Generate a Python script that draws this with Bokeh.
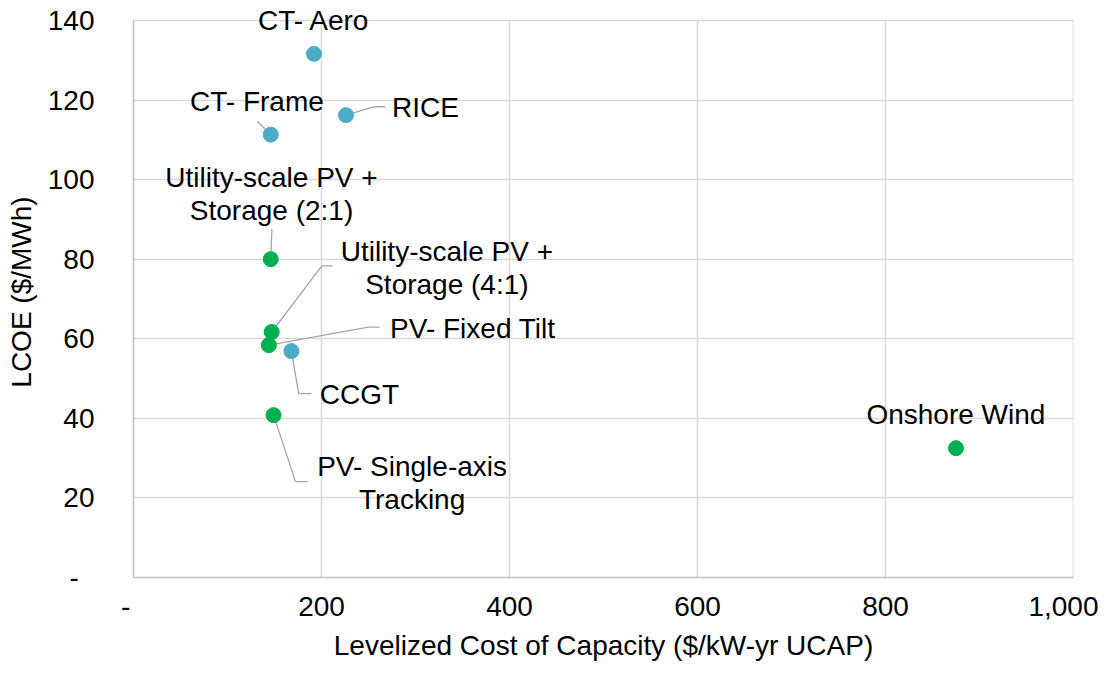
from bokeh.plotting import figure
from bokeh.models import ColumnDataSource, FixedTicker, NumeralTickFormatter, Range1d, LabelSet
from bokeh.embed import file_html
from bokeh.resources import INLINE
from bokeh.core.properties import value

# ---- data ----
names = ["CT- Aero", "RICE", "CT- Frame", "Utility-scale PV +\nStorage (2:1)",
         "Utility-scale PV +\nStorage (4:1)", "PV- Fixed Tilt", "CCGT",
         "PV- Single-axis\nTracking", "Onshore Wind"]
capacity_cost = [192, 226, 146, 146, 147, 144, 168, 149, 875]
lcoe = [131.6, 116.2, 111.3, 80.0, 61.7, 58.4, 56.9, 40.8, 32.5]
tech_group = ["thermal", "thermal", "thermal", "renewable", "renewable",
              "renewable", "thermal", "renewable", "renewable"]

x_ticks = [0, 200, 400, 600, 800, 1000]
y_ticks = [0, 20, 40, 60, 80, 100, 120, 140]
Y_MAX = 140

# ---- label placement (annotation layout) ----
label_x = [192, 310.6, 131.3, 146.8, 333.4, 361, 240.4, 296.4, 874.9]
label_y = [139.9, 118.2, 119.5, 96.3, 77.8, 62.7, 46.0, 23.7, 40.9]
leaders = {
    1: [(255.5, 118.3), (267.7, 118.3)],
    2: [(131.9, 114.6)],
    3: [(147.2, 87.5)],
    4: [(200.4, 78.3), (211.7, 78.3)],
    5: [(249.9, 62.9), (262.0, 62.9)],
    6: [(175.7, 46.2), (189.0, 46.2)],
    7: [(172.3, 24.1), (185.1, 24.1)],
}
LINE_GAP = 33  # px between lines of a two-line label

colors = {"thermal": "#4BACC6", "renewable": "#00B050"}
FONT = "Liberation Sans"
FS = "28px"

# the y range is a little taller than the axis so the top label is not clipped
p = figure(width=1098, height=663, output_backend="svg", toolbar_location=None,
           x_range=Range1d(0, 1000), y_range=Range1d(0, Y_MAX + 3.5),
           min_border_left=133, min_border_right=25, min_border_top=6, min_border_bottom=85)
p.outline_line_color = None
p.background_fill_color = "white"
p.border_fill_color = "white"

# grid
p.xgrid.visible = False
p.ygrid.ticker = FixedTicker(ticks=y_ticks)
p.ygrid.grid_line_color = "#D9D9D9"
p.ygrid.grid_line_width = 1.5
p.segment(x0=x_ticks[1:], y0=[0] * (len(x_ticks) - 1), x1=x_ticks[1:],
          y1=[Y_MAX] * (len(x_ticks) - 1), line_color="#D9D9D9", line_width=1.5,
          level="underlay")

# axes
for ax in (p.xaxis, p.yaxis):
    ax.axis_line_color = "#BFBFBF"
    ax.axis_line_width = 1.5
    ax.major_tick_line_color = None
    ax.minor_tick_line_color = None
    ax.major_label_text_font = FONT
    ax.major_label_text_font_size = FS
    ax.major_label_text_color = "#000000"
    ax.axis_label_text_font = FONT
    ax.axis_label_text_font_size = FS
    ax.axis_label_text_font_style = "normal"
    ax.axis_label_text_color = "#000000"

p.yaxis.bounds = (0, Y_MAX)
p.xaxis.ticker = FixedTicker(ticks=x_ticks)
p.yaxis.ticker = FixedTicker(ticks=y_ticks)
p.xaxis.formatter = NumeralTickFormatter(format="0,0")
p.xaxis.major_label_overrides = {0: "-\u00a0\u00a0"}
p.yaxis.major_label_overrides = {0: "-\u00a0\u00a0"}
p.xaxis.axis_label = "Levelized Cost of Capacity ($/kW-yr UCAP)"
p.yaxis.axis_label = "LCOE ($/MWh)"
p.xaxis.major_label_standoff = 7
p.yaxis.major_label_standoff = 33
p.xaxis.axis_label_standoff = 5
p.yaxis.axis_label_standoff = 8

# leader lines
for i, pts in leaders.items():
    xs = [capacity_cost[i]] + [q[0] for q in pts]
    ys = [lcoe[i]] + [q[1] for q in pts]
    p.line(xs, ys, line_color="#A6A6A6", line_width=1.3)

src = ColumnDataSource(dict(x=capacity_cost, y=lcoe,
                            c=[colors[g] for g in tech_group]))
p.scatter("x", "y", source=src, size=15, fill_color="c", line_color="c")

# one row per text line so every line is centred
lx, ly, lt, loff = [], [], [], []
for name, x0, y0 in zip(names, label_x, label_y):
    parts = name.split("\n")
    n = len(parts)
    for k, part in enumerate(parts):
        lx.append(x0)
        ly.append(y0)
        lt.append(part)
        loff.append(((n - 1) / 2 - k) * LINE_GAP)
lab_src = ColumnDataSource(dict(x=lx, y=ly, t=lt, off=loff))
labels = LabelSet(x="x", y="y", text="t", y_offset="off", source=lab_src,
                  text_align="center", text_baseline="middle",
                  text_font=value(FONT), text_font_size=FS, text_color="#000000",
                  level="overlay")
p.add_layout(labels)

open("out.html", "w").write(file_html(p, INLINE))
